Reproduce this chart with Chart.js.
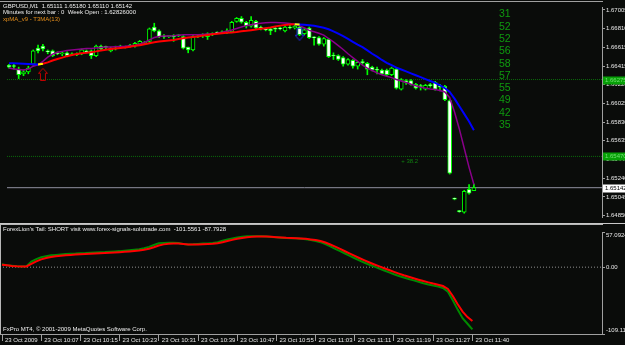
<!DOCTYPE html>
<html>
<head>
<meta charset="utf-8">
<script src="https://cdn.jsdelivr.net/npm/chart.js@4.4.1/dist/chart.umd.min.js"></script>
<style>
  html, body { margin: 0; padding: 0; background: #0a0c0a; }
  #wrap { position: relative; width: 625px; height: 345px; overflow: hidden; }
  #priceBox { position: absolute; left: 0; top: 0; width: 625px; height: 224px; }
  #oscBox { position: absolute; left: 0; top: 224px; width: 625px; height: 121px; }
</style>
</head>
<body>
<div id="wrap">
  <div id="priceBox"><canvas id="price" width="625" height="224"></canvas></div>
  <div id="oscBox"><canvas id="osc" width="625" height="121"></canvas></div>
</div>
<script>
// GBPUSD M1 bars, 23 Oct 2009 (bar index 0..96)
const opens = [
  1.66425,1.66415,1.66385,1.66335,1.66355,1.66435,1.66605,1.66625,1.66575,1.66575,
  1.66555,1.66545,1.66555,1.66535,1.66545,1.66545,1.66575,1.66575,1.66525,1.66625,
  1.66615,1.66575,1.66605,1.66625,1.66615,1.66635,1.66625,1.66645,1.66655,1.66675,
  1.66825,1.66785,1.66725,1.66725,1.66735,1.66735,1.66725,1.66615,1.66585,1.66725,
  1.66735,1.66725,1.66755,1.66765,1.66765,1.66765,1.66775,1.66885,1.66915,1.66875,
  1.66835,1.66885,1.66815,1.66805,1.66805,1.66805,1.66815,1.66785,1.66825,1.66815,
  1.66825,1.66755,1.66815,1.66715,1.66715,1.66645,1.66695,1.66525,1.66525,1.66505,
  1.66435,1.66475,1.66415,1.66455,1.66445,1.66405,1.66375,1.66375,1.66375,1.66325,
  1.66385,1.66175,1.66265,1.66265,1.66225,1.66205,1.66175,1.66215,1.66245,1.66205,
  1.66205,1.66055,1.65025,1.64895,1.64885,1.65125,1.65111
];
const highs = [
  1.66435,1.66435,1.66405,1.66375,1.66415,1.66585,1.66635,1.66645,1.66585,1.66585,
  1.66565,1.66565,1.66565,1.66555,1.66555,1.66595,1.66585,1.66585,1.66635,1.66635,
  1.66625,1.66615,1.66625,1.66635,1.66625,1.66645,1.66665,1.66685,1.66675,1.66815,
  1.66865,1.66795,1.66745,1.66735,1.66745,1.66745,1.66735,1.66615,1.66735,1.66735,
  1.66755,1.66765,1.66765,1.66775,1.66785,1.66805,1.66885,1.66925,1.66935,1.66885,
  1.66935,1.66895,1.66835,1.66815,1.66815,1.66825,1.66825,1.66835,1.66845,1.66845,
  1.66835,1.66815,1.66825,1.66725,1.66725,1.66715,1.66705,1.66555,1.66535,1.66515,
  1.66495,1.66485,1.66465,1.66485,1.66455,1.66415,1.66405,1.66385,1.66385,1.66405,
  1.66395,1.66285,1.66275,1.66275,1.66235,1.66225,1.66225,1.66235,1.66255,1.66225,
  1.66215,1.66065,1.65035,1.64905,1.65115,1.65175,1.65180
];
const lows = [
  1.66395,1.66385,1.66285,1.66315,1.66335,1.66425,1.66555,1.66575,1.66545,1.66515,
  1.66535,1.66525,1.66515,1.66525,1.66525,1.66535,1.66555,1.66495,1.66515,1.66585,
  1.66595,1.66565,1.66585,1.66605,1.66605,1.66615,1.66615,1.66635,1.66645,1.66665,
  1.66775,1.66715,1.66705,1.66715,1.66675,1.66725,1.66595,1.66555,1.66575,1.66715,
  1.66715,1.66695,1.66735,1.66755,1.66755,1.66755,1.66765,1.66875,1.66865,1.66815,
  1.66825,1.66805,1.66795,1.66785,1.66745,1.66775,1.66795,1.66775,1.66805,1.66805,
  1.66735,1.66745,1.66705,1.66635,1.66635,1.66625,1.66505,1.66485,1.66475,1.66415,
  1.66425,1.66395,1.66385,1.66435,1.66325,1.66365,1.66335,1.66325,1.66315,1.66315,
  1.66175,1.66165,1.66225,1.66215,1.66175,1.66165,1.66165,1.66195,1.66165,1.66155,
  1.66055,1.65285,1.65015,1.64885,1.64875,1.65075,1.65110
];
const closes = [
  1.66405,1.66412,1.66325,1.66355,1.66395,1.66575,1.66575,1.66595,1.66565,1.66525,
  1.66545,1.66555,1.66525,1.66545,1.66535,1.66585,1.66565,1.66525,1.66625,1.66595,
  1.66612,1.66605,1.66595,1.66615,1.66612,1.66625,1.66655,1.66675,1.66665,1.66805,
  1.66785,1.66725,1.66722,1.66728,1.66725,1.66732,1.66605,1.66585,1.66725,1.66722,
  1.66732,1.66755,1.66745,1.66762,1.66775,1.66785,1.66875,1.66915,1.66875,1.66835,
  1.66895,1.66815,1.66812,1.66795,1.66785,1.66802,1.66805,1.66825,1.66815,1.66835,
  1.66745,1.66795,1.66715,1.66712,1.66645,1.66705,1.66515,1.66522,1.66485,1.66435,
  1.66485,1.66415,1.66455,1.66452,1.66385,1.66375,1.66372,1.66335,1.66325,1.66395,
  1.66185,1.66275,1.66245,1.66225,1.66185,1.66202,1.66215,1.66212,1.66175,1.66195,
  1.66065,1.65295,1.65022,1.64892,1.65105,1.65085,1.65142
];

// xpMA_v9 - T3MA(13)
const t3ma = [
  1.66445,1.66445,1.66443,1.66440,1.66438,1.66435,1.66433,1.66440,1.66455,1.66475,
  1.66490,1.66505,1.66520,1.66532,1.66542,1.66550,1.66555,1.66562,1.66570,1.66580,
  1.66588,1.66595,1.66600,1.66605,1.66610,1.66618,1.66628,1.66635,1.66645,1.66655,
  1.66665,1.66673,1.66680,1.66685,1.66690,1.66700,1.66708,1.66715,1.66720,1.66727,
  1.66735,1.66742,1.66750,1.66755,1.66760,1.66765,1.66768,1.66773,1.66780,1.66785,
  1.66792,1.66800,1.66807,1.66813,1.66820,1.66830,1.66840,1.66847,1.66852,1.66854,
  1.66852,1.66848,1.66845,1.66838,1.66828,1.66817,1.66802,1.66780,1.66755,1.66730,
  1.66700,1.66670,1.66640,1.66615,1.66580,1.66545,1.66515,1.66480,1.66450,1.66425,
  1.66400,1.66380,1.66360,1.66340,1.66320,1.66300,1.66280,1.66260,1.66240,1.66215,
  1.66185,1.66145,1.66075,1.65995,1.65915,1.65835,1.65745
];
const t3maTurns = [[6, 7], [59, 60]];

// second moving average (purple)
const slowMa = [
  1.66395,1.66385,1.66380,1.66375,1.66385,1.66415,1.66430,1.66465,1.66510,1.66540,
  1.66560,1.66570,1.66580,1.66585,1.66590,1.66595,1.66600,1.66600,1.66605,1.66610,
  1.66615,1.66615,1.66618,1.66622,1.66625,1.66630,1.66635,1.66645,1.66665,1.66690,
  1.66715,1.66725,1.66730,1.66732,1.66735,1.66740,1.66745,1.66745,1.66745,1.66745,
  1.66748,1.66752,1.66755,1.66760,1.66770,1.66782,1.66795,1.66810,1.66825,1.66840,
  1.66850,1.66860,1.66865,1.66870,1.66872,1.66872,1.66870,1.66867,1.66862,1.66855,
  1.66840,1.66815,1.66790,1.66775,1.66760,1.66740,1.66705,1.66670,1.66630,1.66590,
  1.66545,1.66505,1.66465,1.66425,1.66395,1.66370,1.66345,1.66325,1.66310,1.66295,
  1.66275,1.66260,1.66245,1.66225,1.66210,1.66195,1.66185,1.66175,1.66170,1.66160,
  1.66145,1.66085,1.65935,1.65755,1.65555,1.65355,1.65175
];

// ForexLion's Tail (lower window)
const tailGreen = [
  4.6,3.1,2.3,1.5,1.1,1.5,9.2,13.1,16.2,18.0,
  19.3,20.0,20.8,21.6,22.0,22.3,22.8,23.1,23.6,24.0,
  24.3,24.6,25.1,25.7,26.2,27.0,27.7,28.5,29.3,30.8,
  33.1,36.2,39.0,39.6,40.0,40.0,39.3,37.7,37.0,37.4,
  38.0,38.5,38.8,39.3,40.8,43.1,45.4,47.0,48.5,49.7,
  50.4,50.5,50.5,50.4,50.1,49.3,48.7,48.2,47.7,47.4,
  47.1,46.5,45.4,44.2,42.8,40.8,37.7,33.9,30.0,26.2,
  22.3,18.5,14.6,10.8,7.2,3.9,0.8,-2.3,-5.4,-8.5,
  -11.6,-14.3,-16.9,-19.3,-21.6,-23.9,-26.2,-28.2,-30.0,-31.6,
  -33.9,-40.0,-53.9,-69.3,-83.2,-92.4,-101.5561
];
const tailRed = [
  4.0,3.0,2.0,1.5,1.2,1.2,5.5,9.5,12.8,15.0,
  16.5,17.7,18.6,19.4,20.0,20.5,21.0,21.4,21.8,22.2,
  22.6,23.0,23.4,23.9,24.4,25.0,25.7,26.4,27.2,28.3,
  30.0,32.5,35.3,37.2,38.3,38.8,38.6,37.9,37.2,37.0,
  37.2,37.6,38.0,38.4,39.2,40.8,42.8,44.6,46.3,47.7,
  48.8,49.5,49.9,50.0,49.9,49.5,49.0,48.5,48.0,47.7,
  47.4,47.0,46.3,45.3,44.2,42.6,40.2,37.0,33.5,29.8,
  26.0,22.2,18.4,14.6,11.0,7.6,4.4,1.3,-1.7,-4.7,
  -7.7,-10.5,-13.2,-15.7,-18.1,-20.4,-22.7,-24.8,-26.8,-28.6,
  -30.8,-35.5,-47.0,-60.5,-72.5,-81.5,-87.7928
];

const timeTickIdx = [0, 8, 16, 24, 32, 40, 48, 56, 64, 72, 80, 88, 96];
const timeLabels = ["23 Oct 2009", "23 Oct 10:07", "23 Oct 10:15", "23 Oct 10:23", "23 Oct 10:31",
  "23 Oct 10:39", "23 Oct 10:47", "23 Oct 10:55", "23 Oct 11:03", "23 Oct 11:11",
  "23 Oct 11:19", "23 Oct 11:27", "23 Oct 11:40"];
const priceTicks = [1.67005, 1.66810, 1.66615, 1.66415, 1.66220, 1.66025, 1.65830,
  1.65635, 1.65440, 1.65240, 1.65045, 1.64850];
const oscTicks = [57.0924, 0, -109.110];

const levelLines = [1.66275, 1.65470];
const bidPrice = 1.65142;
const arrowsUp = [{ i: 7, price: 1.66330 }];
const arrowsDown = [{ i: 60, price: 1.66750 }];
const sideNumbers = [31, 52, 52, 56, 58, 57, 55, 49, 42, 35];
const fibLabel = { i: 81, price: 1.65415, text: "+ 38.2" };

const CANDLE = '#00ff00';
const FONT = 'Liberation Sans, Arial, sans-serif';
const X_MIN = -0.41, X_MAX = 122.45;

function arrowIcon(color, up) {
  const c = document.createElement('canvas');
  c.width = 10; c.height = 13;
  const g = c.getContext('2d');
  g.strokeStyle = color; g.lineWidth = 1;
  g.beginPath();
  if (up) {
    g.moveTo(5, 0.5); g.lineTo(9.5, 5.5); g.lineTo(7.5, 5.5); g.lineTo(7.5, 12.5);
    g.lineTo(2.5, 12.5); g.lineTo(2.5, 5.5); g.lineTo(0.5, 5.5);
  } else {
    g.moveTo(5, 12.5); g.lineTo(9.5, 7.5); g.lineTo(7.5, 7.5); g.lineTo(7.5, 0.5);
    g.lineTo(2.5, 0.5); g.lineTo(2.5, 7.5); g.lineTo(0.5, 7.5);
  }
  g.closePath();
  g.stroke();
  return c;
}

const idx = opens.map((_, i) => i);
const bull = i => closes[i] > opens[i];

const priceOverlay = {
  id: 'priceOverlay',
  afterDraw(chart) {
    const { ctx, chartArea: a, scales: { x, y } } = chart;
    ctx.save();
    ctx.fillStyle = '#a0a0a0';
    ctx.fillRect(0, 1, a.right + 1, 1);
    ctx.fillStyle = '#c8c8c8';
    ctx.fillRect(0, 223, 625, 1);

    ctx.font = '6px ' + FONT;
    ctx.textBaseline = 'middle';
    ctx.textAlign = 'left';
    ctx.fillStyle = '#eeeeee';
    ctx.fillText('GBPUSD,M1  1.65111 1.65180 1.65110 1.65142', 3, 6);
    ctx.fillText('Minutes for next bar : 0  Week Open : 1.62826000', 3, 12.5);
    ctx.fillStyle = '#e8901c';
    ctx.fillText('xpMA_v9 - T3MA(13)', 3, 19);

    ctx.fillStyle = '#0f9a0f';
    ctx.font = '10.5px ' + FONT;
    sideNumbers.forEach((n, k) => ctx.fillText(String(n), 499, 14.5 + k * 12.3));

    ctx.font = '6px ' + FONT;
    ctx.fillStyle = '#108010';
    ctx.fillText(fibLabel.text, x.getPixelForValue(fibLabel.i), y.getPixelForValue(fibLabel.price));

    // price boxes on the axis
    const box = (v, bg, fg) => {
      const py = y.getPixelForValue(v);
      ctx.fillStyle = bg;
      ctx.fillRect(a.right + 1, Math.round(py) - 3.5, 25, 8);
      ctx.fillStyle = fg;
      ctx.font = '6px ' + FONT;
      ctx.fillText(v.toFixed(5), a.right + 3, Math.round(py) + 0.5);
    };
    levelLines.forEach(v => box(v, '#07a007', '#70e070'));
    box(bidPrice, '#ffffff', '#000000');
    ctx.restore();
  }
};

new Chart(document.getElementById('price'), {
  type: 'bar',
  data: {
    datasets: [
      {
        type: 'line', data: arrowsUp.map(p => ({ x: p.i, y: p.price })), showLine: false,
        pointStyle: arrowIcon('#c00000', true), pointRadius: 6, order: -4
      },
      {
        type: 'line', data: arrowsDown.map(p => ({ x: p.i, y: p.price })), showLine: false,
        pointStyle: arrowIcon('#2030e0', false), pointRadius: 6, order: -4
      },
      {
        type: 'line',
        data: t3maTurns.flatMap(([a, b]) => [{ x: a, y: t3ma[a] }, { x: b, y: t3ma[b] }, { x: b + 0.5, y: null }]),
        borderColor: '#ffff00', borderWidth: 2, pointRadius: 0, order: -3
      },
      {
        type: 'line', data: idx.map(i => ({ x: i, y: t3ma[i] })),
        borderWidth: 2, pointRadius: 0, order: -2,
        segment: { borderColor: s => s.p1.parsed.y > s.p0.parsed.y ? '#ff0000' : '#0000ff' }
      },
      {
        type: 'line', data: idx.map(i => ({ x: i, y: slowMa[i] })),
        borderColor: '#8a008a', borderWidth: 1.5, pointRadius: 0, order: -1
      },
      {
        type: 'bar', data: idx.map(i => ({ x: i, y: [opens[i], closes[i]] })),
        grouped: false, barThickness: 4, minBarLength: 1, borderWidth: 1, borderSkipped: false,
        borderColor: CANDLE, backgroundColor: c => bull(c.dataIndex) ? '#000000' : '#ffffff', order: 1
      },
      {
        type: 'bar', data: idx.map(i => ({ x: i, y: [lows[i], highs[i]] })),
        grouped: false, barThickness: 1, borderWidth: 0, backgroundColor: CANDLE, order: 2
      },
      ...levelLines.map(v => ({
        type: 'line', data: [{ x: X_MIN, y: v }, { x: X_MAX, y: v }],
        borderColor: '#0b6b0b', borderWidth: 1, borderDash: [1, 1], pointRadius: 0, order: 3
      })),
      {
        type: 'line', data: [{ x: X_MIN, y: bidPrice }, { x: X_MAX, y: bidPrice }],
        borderColor: '#9090a0', borderWidth: 1, pointRadius: 0, order: 3
      }
    ]
  },
  options: {
    responsive: false, animation: false, devicePixelRatio: 1,
    layout: { padding: { top: 2, bottom: 2, left: 0, right: 0 } },
    plugins: { legend: { display: false }, tooltip: { enabled: false } },
    scales: {
      x: { type: 'linear', min: X_MIN, max: X_MAX, display: false, offset: false },
      y: {
        position: 'right', min: 1.64835, max: 1.67035,
        afterFit: s => { s.width = 23; },
        afterBuildTicks: s => { s.ticks = priceTicks.map(v => ({ value: v })); },
        ticks: { color: '#e8e8e8', font: { family: FONT, size: 6 }, padding: 1, autoSkip: false,
                 callback: v => v.toFixed(5) },
        grid: { drawOnChartArea: false, tickLength: 3, color: '#a0a0a0' },
        border: { display: true, color: '#a0a0a0' }
      }
    }
  },
  plugins: [priceOverlay]
});

const oscOverlay = {
  id: 'oscOverlay',
  afterDraw(chart) {
    const { ctx, chartArea: a } = chart;
    ctx.save();
    ctx.fillStyle = '#b8b8b8';
    ctx.fillRect(0, 0, a.right + 1, 1);
    ctx.fillRect(0, 0, 1, a.bottom);
    ctx.font = '6px ' + FONT;
    ctx.textBaseline = 'middle';
    ctx.fillStyle = '#eeeeee';
    ctx.fillText("ForexLion's Tail: SHORT visit www.forex-signals-solutrade.com  " +
      tailGreen[tailGreen.length - 1].toFixed(4) + ' ' + tailRed[tailRed.length - 1].toFixed(4), 3, 5.5);
    ctx.fillText('FxPro MT4, \u00a9 2001-2009 MetaQuotes Software Corp.', 3, 105);
    ctx.restore();
  }
};

new Chart(document.getElementById('osc'), {
  type: 'line',
  data: {
    datasets: [
      {
        data: [{ x: X_MIN, y: 0 }, { x: X_MAX, y: 0 }],
        borderColor: '#909090', borderWidth: 1, borderDash: [1, 2], pointRadius: 0, order: 3
      },
      {
        data: idx.map(i => ({ x: i, y: tailGreen[i] })),
        borderColor: '#008a00', borderWidth: 2, pointRadius: 0, order: 2
      },
      {
        data: idx.map(i => ({ x: i, y: tailRed[i] })),
        borderColor: '#ff0000', borderWidth: 2, pointRadius: 0, order: 1
      }
    ]
  },
  options: {
    responsive: false, animation: false, devicePixelRatio: 1,
    layout: { padding: { top: 2, bottom: 0, left: 0, right: 0 } },
    plugins: { legend: { display: false }, tooltip: { enabled: false } },
    scales: {
      x: {
        type: 'linear', min: X_MIN, max: X_MAX, offset: false,
        afterFit: s => { s.height = 11; },
        afterBuildTicks: s => { s.ticks = timeTickIdx.map(v => ({ value: v })); },
        ticks: { align: 'start', labelOffset: 3, padding: -4, maxRotation: 0, autoSkip: false,
                 color: '#e8e8e8', font: { family: FONT, size: 6 },
                 callback: (v, k) => timeLabels[k] },
        grid: { drawOnChartArea: false, tickLength: 7, color: '#a0a0a0', offset: false },
        border: { display: true, color: '#a0a0a0' }
      },
      y: {
        position: 'right', min: -109.110, max: 57.0924,
        afterFit: s => { s.width = 23; },
        afterBuildTicks: s => { s.ticks = oscTicks.map(v => ({ value: v })); },
        ticks: { color: '#e8e8e8', font: { family: FONT, size: 6 }, padding: 1, autoSkip: false,
                 callback: v => v > 0 ? ['', v.toFixed(4)] : v < 0 ? [v.toFixed(3), ''] : '0.00' },
        grid: { drawOnChartArea: false, tickLength: 3, color: '#a0a0a0' },
        border: { display: true, color: '#a0a0a0' }
      }
    }
  },
  plugins: [oscOverlay]
});
</script>
</body>
</html>
